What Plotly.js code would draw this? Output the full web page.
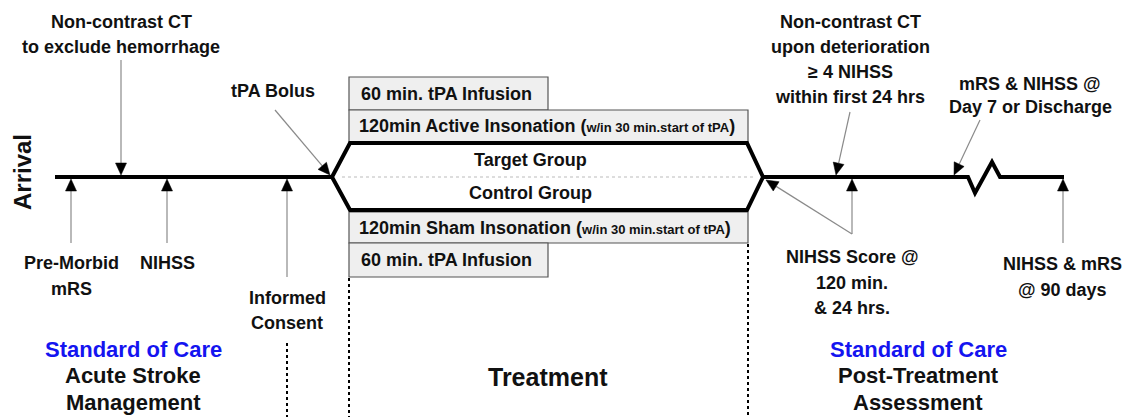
<!DOCTYPE html>
<html>
<head>
<meta charset="utf-8">
<script src="https://cdn.plot.ly/plotly-3.0.1.min.js"></script>
<style>html,body{margin:0;padding:0;background:#fff;}#chart{width:1129px;height:417px;}</style>
</head>
<body>
<div id="chart"></div>
<script>
// ---- labels (content) ----
const arrivalLabel = 'Arrival';
const preCtLabel = ['Non-contrast CT', 'to exclude hemorrhage'];
const bolusLabel = 'tPA Bolus';
const preMorbidLabel = ['Pre-Morbid', 'mRS'];
const nihssLabel = 'NIHSS';
const consentLabel = ['Informed', 'Consent'];
const phaseLeft = ['Standard of Care', 'Acute Stroke', 'Management'];
const phaseMid = 'Treatment';
const phaseRight = ['Standard of Care', 'Post-Treatment', 'Assessment'];
const groupLabels = ['Target Group', 'Control Group'];
const boxLabels = ['60 min. tPA Infusion', '120min Active Insonation', '120min Sham Insonation', '60 min. tPA Infusion'];
const boxNote = 'w/in 30 min.start of tPA';
const postCtLabel = ['Non-contrast CT', 'upon deterioration', '\u2265 4 NIHSS', 'within first 24 hrs'];
const day7Label = ['mRS & NIHSS @', 'Day 7 or Discharge'];
const scoreLabel = ['NIHSS Score @', '120 min.', '& 24 hrs.'];
const day90Label = ['NIHSS & mRS', '@ 90 days'];

const FONT = 'Liberation Sans, Arial, sans-serif';
const BLUE = '#1414f0';
const ann = [];
const shapes = [];
function txt(x, y, t, size, color, extra) {
  ann.push(Object.assign({x: x, y: y, xref: 'x', yref: 'y', text: '<b>' + t + '</b>', showarrow: false,
    xanchor: 'center', yanchor: 'middle', font: {family: FONT, size: size || 18, color: color || '#111'}}, extra || {}));
}
function lines(x, y0, arr, dy, size, colors) {
  arr.forEach((t, i) => txt(x, y0 + i * dy, t, size, colors ? colors[i] : null));
}
function seg(x0, y0, x1, y1, color, width, dash) {
  shapes.push({type: 'line', xref: 'x', yref: 'y', x0: x0, y0: y0, x1: x1, y1: y1,
    line: {color: color, width: width, dash: dash || 'solid'}});
}
function rect(x0, y0, x1, y1) {
  shapes.push({type: 'rect', xref: 'x', yref: 'y', x0: x0, y0: y0, x1: x1, y1: y1,
    fillcolor: '#efefef', line: {color: '#555', width: 1.2}, layer: 'below'});
}

// arrows: gray shaft + filled black head
const HEAD_L = 12, HEAD_W = 5.5;
function arrow(x0, y0, x1, y1) {
  const dx = x1 - x0, dy = y1 - y0, L = Math.hypot(dx, dy);
  const ux = dx / L, uy = dy / L;
  const bx = x1 - HEAD_L * ux, by = y1 - HEAD_L * uy;
  seg(x0, y0, bx, by, '#8a8a8a', 1.2);
  const px = -uy * HEAD_W, py = ux * HEAD_W;
  shapes.push({type: 'path', xref: 'x', yref: 'y',
    path: 'M' + x1 + ',' + y1 + ' L' + (bx + px) + ',' + (by + py) + ' L' + (bx - px) + ',' + (by - py) + ' Z',
    fillcolor: '#000', line: {color: '#000', width: 0.5}});
}

// ---- timeline ----
seg(55, 177, 333, 177, '#000', 4);
shapes.push({type: 'path', xref: 'x', yref: 'y',
  path: 'M332,177 L350,143 L747,143 L763,177 L747,210 L350,210 Z', line: {color: '#000', width: 4}});
seg(342, 177, 753, 177, '#bbb', 1, 'dot');
shapes.push({type: 'path', xref: 'x', yref: 'y',
  path: 'M763,177 L968,177 L975,193 L992,162 L1000,177 L1064,177', line: {color: '#000', width: 4}});

// boxes
rect(349, 77, 548, 110);
rect(349, 110, 748, 142);
rect(349, 212, 748, 243);
rect(349, 243, 548, 277);
const note = ' (<span style="font-size:13px">' + boxNote + '</span>)';
txt(359, 94, boxLabels[0], 18, null, {xanchor: 'left'});
txt(357, 126, boxLabels[1] + note, 18, null, {xanchor: 'left'});
txt(357, 228, boxLabels[2] + note, 18, null, {xanchor: 'left'});
txt(359, 260, boxLabels[3], 18, null, {xanchor: 'left'});
txt(530, 160, groupLabels[0], 18);
txt(530, 193, groupLabels[1], 18);

// dotted dividers
seg(349, 278, 349, 417, '#000', 2, 'dot');
seg(748, 244, 748, 417, '#000', 2, 'dot');
seg(287, 343, 287, 417, '#000', 2, 'dot');

// arrows
arrow(121, 60, 121, 175);
arrow(275, 110, 330, 175);
arrow(71, 243, 71, 179);
arrow(167, 243, 167, 179);
arrow(287, 277, 287, 179);
arrow(850, 112, 836, 175);
arrow(980, 120, 954, 175);
arrow(852, 234, 852, 179);
arrow(852, 234, 766, 180);
arrow(1063, 243, 1063, 179);

// text
txt(22, 172, arrivalLabel, 24, null, {textangle: -90});
lines(121, 22, preCtLabel, 25);
txt(273, 91, bolusLabel);
lines(71, 263, preMorbidLabel, 26);
txt(167, 263, nihssLabel);
lines(287, 298, consentLabel, 25);
lines(133, 349, phaseLeft, 26.5, 22, [BLUE, null, null]);
txt(548, 377, phaseMid, 25);
lines(850, 22, postCtLabel, 25);
lines(1030, 84, day7Label, 23);
lines(852, 257, scoreLabel, 25.5);
lines(1062, 264, day90Label, 26);
lines(918, 349, phaseRight, 26.5, 22, [BLUE, null, null]);

const layout = {
  width: 1129, height: 417, margin: {l: 0, r: 0, t: 0, b: 0},
  paper_bgcolor: '#fff', plot_bgcolor: '#fff', showlegend: false,
  xaxis: {range: [0, 1129], visible: false, fixedrange: true},
  yaxis: {range: [417, 0], visible: false, fixedrange: true},
  shapes: shapes, annotations: ann
};
Plotly.newPlot('chart', [], layout, {staticPlot: true, displayModeBar: false});
</script>
</body>
</html>
